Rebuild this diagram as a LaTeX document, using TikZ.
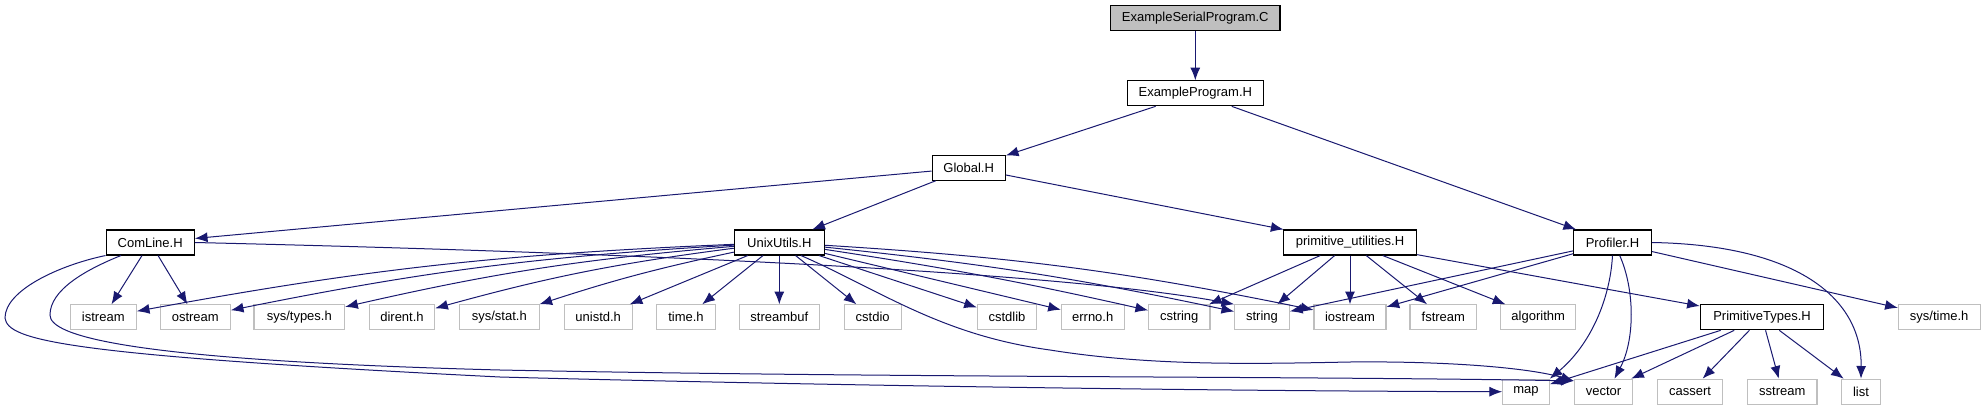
\documentclass[tikz,border=0pt]{standalone}
\usepackage{fontspec}
\setmainfont{Liberation Sans}
\usetikzlibrary{arrows.meta}
\definecolor{edgeblue}{HTML}{191970}
\definecolor{boxgray}{HTML}{BFBFBF}
\begin{document}
\begin{tikzpicture}[x=0.75pt,y=-0.75pt,
  base/.style={rectangle, inner sep=0pt, minimum height=18.75pt, font=\fontsize{9.75}{11}\selectfont, text=black},
  hbox/.style={base, draw=black, line width=0.8pt, fill=white, minimum width=#1},
  rootbox/.style={base, draw=black, line width=0.8pt, fill=boxgray, minimum width=#1},
  sysbox/.style={base, draw=boxgray, line width=0.8pt, fill=white, minimum width=#1},
  dep/.style={draw=edgeblue, line width=0.75pt, -{Latex[length=9.5pt,width=7.5pt]}},
]
\useasboundingbox (0,0) rectangle (1986,411);
% level 0-2
\node[rootbox=127pt] (esp) at (1195.3,18.3) {ExampleSerialProgram.C};
\node[hbox=102pt] (ep) at (1195.3,93.3) {ExampleProgram.H};
\node[hbox=55pt] (glob) at (968.7,167.7) {Global.H};
% level 3
\node[hbox=66.2pt] (comline) at (150.2,242.5) {ComLine.H};
\node[hbox=67.5pt] (unix) at (779.3,242.5) {UnixUtils.H};
\node[hbox=100pt] (prim) at (1350,242.5) {primitive\_utilities.H};
\node[hbox=58.3pt] (prof) at (1612.5,242.5) {Profiler.H};
% level 4
\node[sysbox=49.5pt] (istream) at (103.3,317.3) {istream};
\node[sysbox=52.5pt] (ostream) at (195.3,317.3) {ostream};
\node[sysbox=68pt] (systypes) at (299.3,317.3) {sys/types.h};
\node[sysbox=49pt] (dirent) at (402,317.3) {dirent.h};
\node[sysbox=60pt] (sysstat) at (499.3,317.3) {sys/stat.h};
\node[sysbox=51.2pt] (unistd) at (598.2,317.3) {unistd.h};
\node[sysbox=44pt] (timeh) at (686,317.3) {time.h};
\node[sysbox=60pt] (streambuf) at (779.3,317.3) {streambuf};
\node[sysbox=43pt] (cstdio) at (872.7,317.3) {cstdio};
\node[sysbox=44.5pt] (cstdlib) at (1007,317.3) {cstdlib};
\node[sysbox=47pt] (errno) at (1092.7,317.3) {errno.h};
\node[sysbox=46pt] (cstring) at (1179.3,317.3) {cstring};
\node[sysbox=41pt] (string) at (1262,317.3) {string};
\node[sysbox=54pt] (iostream) at (1350,317.3) {iostream};
\node[sysbox=50pt] (fstream) at (1443.3,317.3) {fstream};
\node[sysbox=56.2pt] (algorithm) at (1538.2,317.3) {algorithm};
\node[hbox=92.5pt] (ptypes) at (1762,317.3) {PrimitiveTypes.H};
\node[sysbox=61.3pt] (systime) at (1939.2,317.3) {sys/time.h};
% level 5
\node[sysbox=35pt] (map) at (1526,391.7) {map};
\node[sysbox=43.7pt] (vector) at (1603.5,391.7) {vector};
\node[sysbox=48.5pt] (cassert) at (1690,391.7) {cassert};
\node[sysbox=52pt] (sstream) at (1782.3,391.7) {sstream};
\node[sysbox=29pt] (list) at (1861,391.7) {list};

% edges top
\draw[dep] (esp) -- (ep);
\draw[dep] (ep) -- (glob);
\draw[dep] (ep) -- (prof);
\draw[dep] (glob) -- (comline);
\draw[dep] (glob) -- (unix);
\draw[dep] (glob) -- (prim);
% ComLine
\draw[dep] (comline) -- (istream);
\draw[dep] (comline) -- (ostream);
\draw[dep] (comline.east) .. controls (600,252) and (1050,270) .. (string.north west);
\draw[dep] (comline.south west) .. controls (60,265) and (5,290) .. (5,318)
  .. controls (8,340) and (60,355) .. (500,377)
  .. controls (800,385) and (1200,391) .. (map.west);
\draw[dep] (comline.-156) .. controls (85,270) and (50,290) .. (50,315)
  .. controls (50,335) and (120,360) .. (500,370)
  .. controls (900,378) and (1300,376) .. (vector.160);
% UnixUtils
\draw[dep] (unix) to[bend right=4] (istream);
\draw[dep] (unix) to[bend right=4] (ostream);
\draw[dep] (unix) to[bend right=4] (systypes);
\draw[dep] (unix) to[bend right=4] (dirent);
\draw[dep] (unix) to[bend right=3] (sysstat);
\draw[dep] (unix) -- (unistd);
\draw[dep] (unix) -- (timeh);
\draw[dep] (unix) -- (streambuf);
\draw[dep] (unix) -- (cstdio);
\draw[dep] (unix) -- (cstdlib);
\draw[dep] (unix) -- (errno);
\draw[dep] (unix) to[bend left=2] (cstring);
\draw[dep] (unix) to[bend left=3] (string);
\draw[dep] (unix) to[bend left=4] (iostream);
\draw[dep] (unix.-31) .. controls (880,290) and (940,335) .. (1050,350)
  .. controls (1150,366) and (1250,364) .. (1350,362)
  .. controls (1450,361) and (1530,368) .. (vector.160);
% primitive_utilities
\draw[dep] (prim) -- (cstring);
\draw[dep] (prim) -- (string);
\draw[dep] (prim) -- (iostream);
\draw[dep] (prim) -- (fstream);
\draw[dep] (prim) -- (algorithm);
\draw[dep] (prim) -- (ptypes);
% Profiler
\draw[dep] (prof) -- (string);
\draw[dep] (prof) -- (iostream);
\draw[dep] (prof.south) .. controls (1610,300) and (1590,345) .. (map.north east);
\draw[dep] (prof.-61) .. controls (1635,290) and (1635,340) .. (vector.50);
\draw[dep] (prof.east) .. controls (1800,245) and (1862,300) .. (list.north);
\draw[dep] (prof) -- (systime);
% PrimitiveTypes
\draw[dep] (ptypes) -- (map);
\draw[dep] (ptypes) -- (vector);
\draw[dep] (ptypes) -- (cassert);
\draw[dep] (ptypes) -- (sstream);
\draw[dep] (ptypes) -- (list);
\end{tikzpicture}
\end{document}
